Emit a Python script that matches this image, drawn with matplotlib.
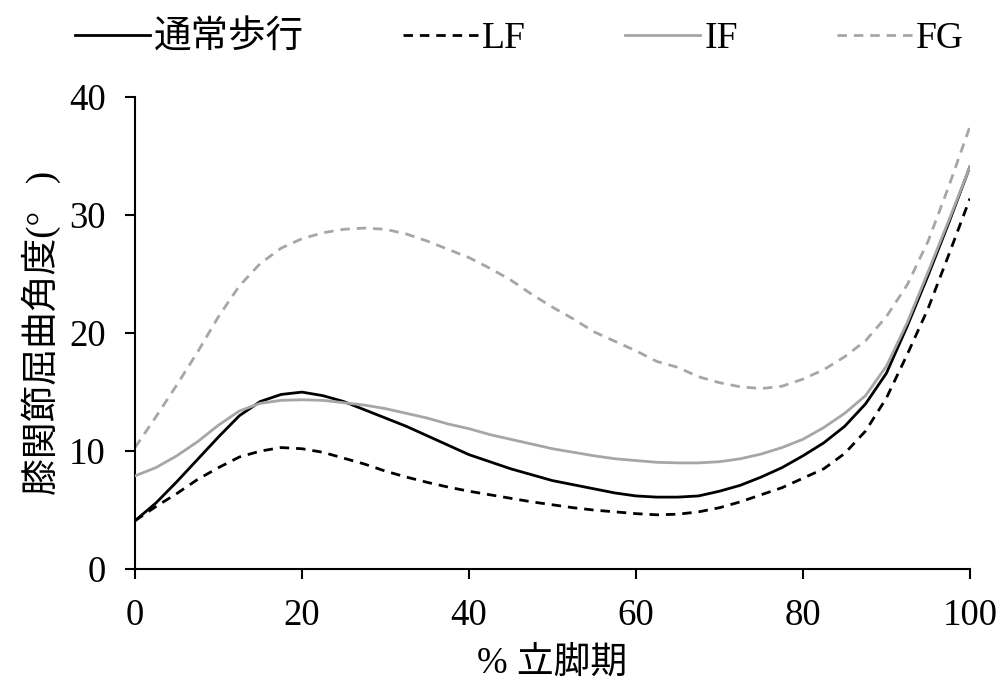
import matplotlib
matplotlib.use('Agg')
import matplotlib.pyplot as plt
import numpy as np

plt.rcParams['font.family'] = ['Liberation Serif', 'Noto Sans CJK JP']

# % stance phase
x = np.arange(0, 100.1, 2.5)

# knee flexion angle (deg)
normal = [4.1, 5.6, 7.4, 9.3, 11.2, 13.0, 14.2, 14.8, 15.0, 14.7,
          14.2, 13.5, 12.8, 12.1, 11.3, 10.5, 9.7, 9.1, 8.5, 8.0,
          7.5, 7.15, 6.8, 6.45, 6.2, 6.1, 6.1, 6.2, 6.6, 7.1,
          7.8, 8.6, 9.6, 10.7, 12.1, 14.0, 16.6, 20.6, 24.9, 29.4, 34.1]
lf = [4.1, 5.3, 6.4, 7.6, 8.6, 9.5, 10.0, 10.3, 10.2, 9.9,
      9.4, 8.9, 8.3, 7.8, 7.35, 6.95, 6.6, 6.3, 6.0, 5.7,
      5.45, 5.2, 5.0, 4.85, 4.7, 4.6, 4.65, 4.85, 5.2, 5.7,
      6.3, 6.9, 7.7, 8.5, 9.8, 11.7, 14.5, 18.2, 22.1, 26.7, 31.4]
if_ = [7.9, 8.6, 9.6, 10.8, 12.2, 13.4, 14.05, 14.3, 14.35, 14.3,
       14.1, 13.9, 13.6, 13.2, 12.8, 12.3, 11.9, 11.4, 11.0, 10.6,
       10.2, 9.9, 9.6, 9.35, 9.2, 9.05, 9.0, 9.0, 9.1, 9.35,
       9.75, 10.3, 11.0, 12.0, 13.2, 14.7, 17.2, 20.9, 25.2, 29.6, 34.1]
fg = [10.3, 12.9, 15.6, 18.4, 21.4, 24.0, 25.9, 27.2, 28.0, 28.5,
      28.8, 28.9, 28.8, 28.4, 27.8, 27.1, 26.4, 25.5, 24.5, 23.3,
      22.2, 21.2, 20.1, 19.3, 18.5, 17.6, 17.1, 16.3, 15.8, 15.45,
      15.3, 15.5, 16.1, 16.9, 18.0, 19.35, 21.4, 24.1, 27.8, 32.5, 37.5]

labels = ['通常歩行', 'LF', 'IF', 'FG']
gray = '#a6a6a6'

fig = plt.figure(figsize=(10.03, 6.84), dpi=100)
ax = fig.add_axes([0.1346, 0.168, 0.8324, 0.690])

lw = 2.0
h_fg, = ax.plot(x, fg, color=gray, lw=lw, dashes=(3.4, 2.5), zorder=2)
h_lf, = ax.plot(x, lf, color='black', lw=lw, dashes=(3.4, 2.5), zorder=3)
h_n, = ax.plot(x, normal, color='black', lw=lw, zorder=4)
h_if, = ax.plot(x, if_, color=gray, lw=lw, zorder=5)

ax.set_xlim(0, 100)
ax.set_ylim(0, 40)
ax.set_xticks(range(0, 101, 20))
ax.set_yticks(range(0, 41, 10))
for s in ['top', 'right']:
    ax.spines[s].set_visible(False)
for s in ['left', 'bottom']:
    ax.spines[s].set_linewidth(1.5)
ax.tick_params(direction='out', length=7, width=1.5, labelsize=26.5, pad=14)

ax.set_xlabel('% 立脚期', fontsize=26.5, labelpad=10)
ax.set_ylabel('膝関節屈曲角度(°   )', fontsize=26.5, labelpad=6)

fig.legend([h_n, h_lf, h_if, h_fg], labels, loc='center', ncol=4,
           bbox_to_anchor=(0.518, 0.944), frameon=False, fontsize=27,
           handlelength=2.0, handletextpad=0.1, columnspacing=2.65)

fig.savefig('out.png', dpi=100)
